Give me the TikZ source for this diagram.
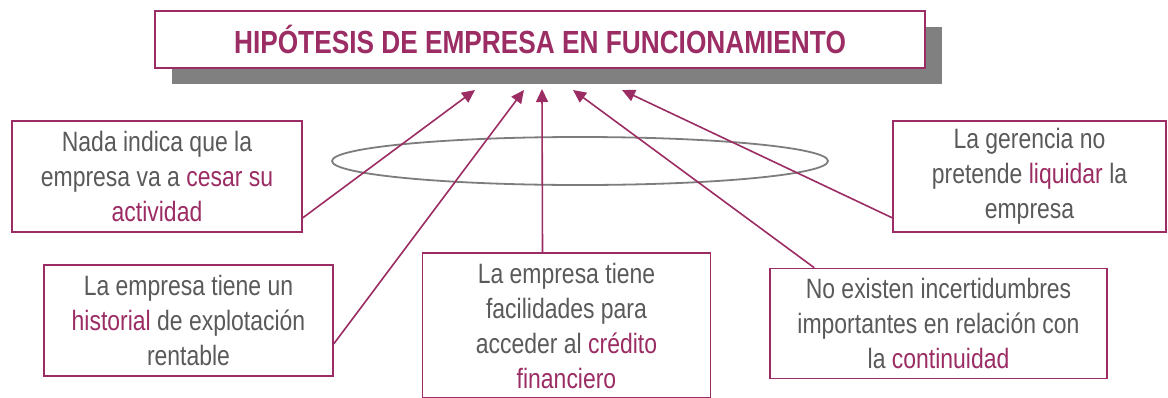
\documentclass[tikz,border=0pt]{standalone}
\usepackage{fontspec}
\setmainfont{Liberation Sans}[FakeStretch=0.82]
\usetikzlibrary{arrows.meta,calc,shadows}
\definecolor{mag}{RGB}{155,45,100}
\definecolor{txtgray}{RGB}{90,90,90}
\definecolor{shadowgray}{RGB}{128,128,128}
\definecolor{ellgray}{RGB}{125,125,125}
\newcommand{\hl}[1]{\textcolor{mag}{#1}}
\tikzset{
  infobox/.style={draw=mag, line width=1.6pt, fill=white, align=center,
    text=txtgray, inner sep=0pt,
    font=\fontsize{28}{35}\selectfont},
  titlebox/.style={draw=mag, line width=1.8pt, fill=white, inner sep=0pt,
    text=mag, font=\bfseries\fontsize{32}{38}\selectfont,
    drop shadow={shadow xshift=17pt, shadow yshift=-16pt, fill=shadowgray, opacity=1}},
  link/.style={draw=mag, line width=1.6pt, -{Triangle[length=13pt,width=12pt]}},
  ring/.style={draw=ellgray, line width=1.8pt}
}
\begin{document}
\begin{tikzpicture}[x=1pt,y=-1pt]
\clip (0,0) rectangle (1168,397);
\useasboundingbox (0,0) rectangle (1168,397);
\fill[white] (0,0) rectangle (1168,397);

\node[titlebox, minimum width=770pt, minimum height=57pt] (title) at (540,39.5)
  {HIPÓTESIS DE EMPRESA EN FUNCIONAMIENTO};

\draw[ring] (580,161) ellipse [x radius=248, y radius=24];

\node[infobox, minimum width=290pt, minimum height=111pt] (b1) at (157,176.5)
  {Nada indica que la\\empresa va a \hl{cesar su}\\\hl{actividad}};
\node[infobox, minimum width=289pt, minimum height=111pt] (b2) at (188.5,320.5)
  {La empresa tiene un\\\hl{historial} de explotación\\rentable};
\node[infobox, minimum width=288pt, minimum height=145pt] (b3) at (566.5,325.5)
  {La empresa tiene\\facilidades para\\acceder al \hl{crédito}\\\hl{financiero}};
\node[infobox, minimum width=337pt, minimum height=110pt] (b4) at (938.5,323.5)
  {No existen incertidumbres\\importantes en relación con\\la \hl{continuidad}};
\node[infobox, minimum width=273pt, minimum height=111pt] (b5) at (1029.5,176.5)
  {La gerencia no\\pretende \hl{liquidar} la\\empresa};

\coordinate (t1) at (475,90);
\coordinate (t2) at (524,90);
\coordinate (t3) at (542,89);
\coordinate (t4) at (573,90);
\coordinate (t5) at (622,90);

\draw[link] ($(b1.south east)+(0,-15)$) -- (t1);
\draw[link] ($(b2.south east)+(0,-33)$) -- (t2);
\draw[link] ($(b3.north)+(-24,0)$) -- (t3);
\draw[link] ($(b4.north west)+(45,0)$) -- (t4);
\draw[link] ($(b5.south west)+(0,-15)$) -- (t5);
\end{tikzpicture}
\end{document}
